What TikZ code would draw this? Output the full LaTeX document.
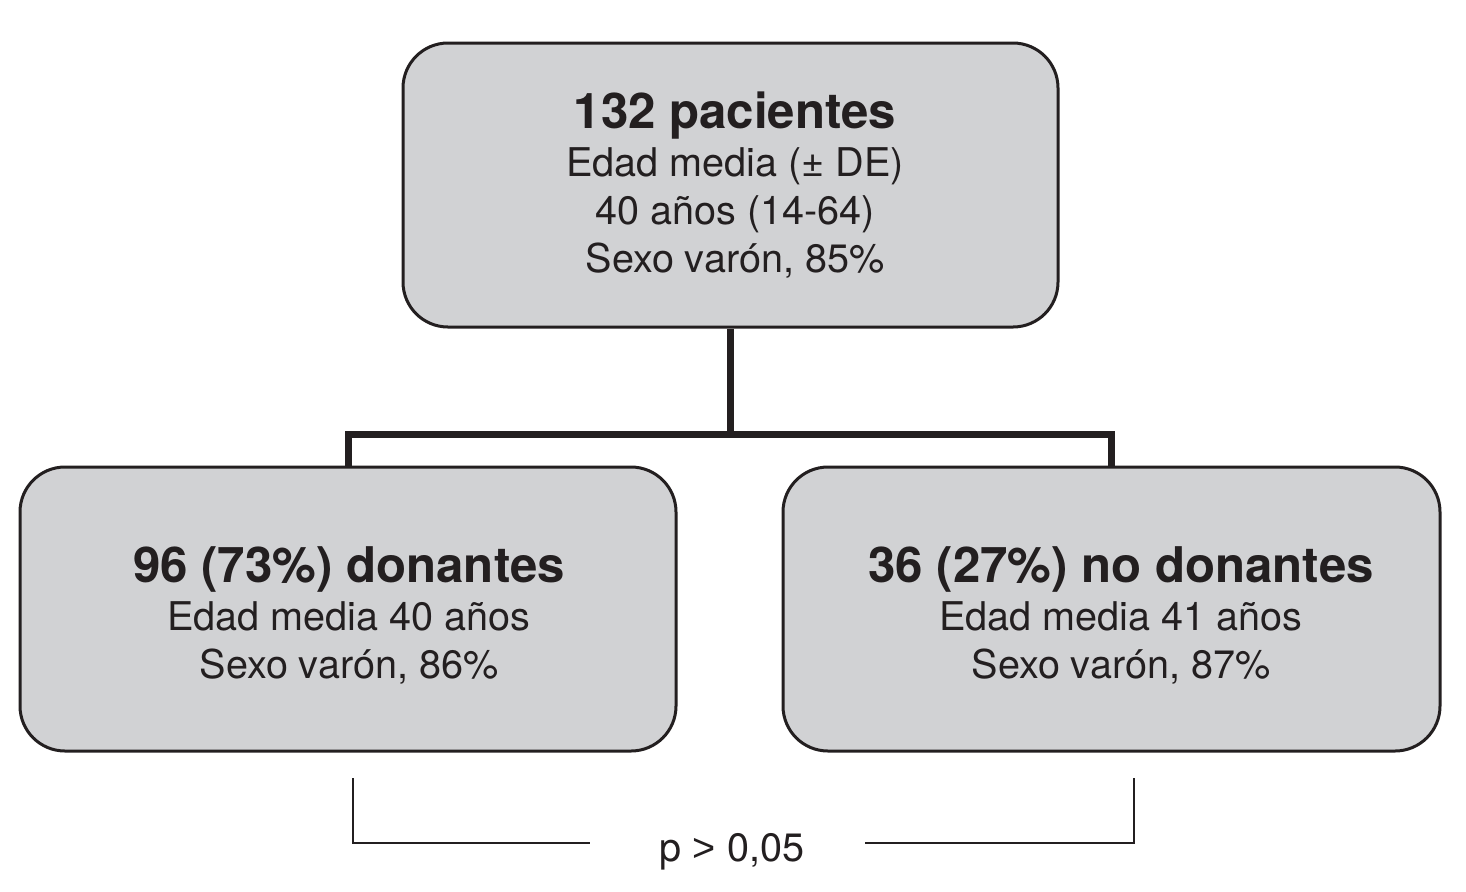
\documentclass[tikz,border=0pt]{standalone}
\usepackage{fontspec}
\setmainfont{TeX Gyre Heros}
\newfontfamily\libsans{Liberation Sans}
\definecolor{boxfill}{HTML}{D1D2D4}
\definecolor{ink}{HTML}{231F20}
\begin{document}
\begin{tikzpicture}[x=0.5pt,y=-0.5pt,
  box/.style={draw=ink, line width=1.5pt, fill=boxfill, rounded corners=22.5pt, inner sep=0pt, minimum height=142pt},
  conn/.style={draw=ink, line width=3.5pt},
  thin/.style={draw=ink, line width=0.8pt},
  title/.style={anchor=base, inner sep=0pt, text=ink, font=\fontsize{24.6}{29}\selectfont\bfseries},
  txt/.style={anchor=base, inner sep=0pt, text=ink, font=\fontsize{19.8}{24}\selectfont}]
\useasboundingbox (0,0) rectangle (1466,891);
\node[box, minimum width=327.5pt] (top) at (730.5,185) {};
\node[box, minimum width=328pt] (left) at (348,609) {};
\node[box, minimum width=328.5pt] (right) at (1111.5,609) {};
% connectors
\draw[conn] (left.north) -- ++(0,-31) coordinate (lj) -| (right.north);
\draw[conn] (top.south) -- (top.south |- lj);
% texts
\node[title] (t1) at (735,128) {132 pacientes};
\node[txt] (t2) at (735,176) {Edad media (± DE)};
\node[txt] (t3) at (735,224) {40 años (14-64)};
\node[txt] (t4) at (735,272) {Sexo varón, 85\%};
\node[title] (l1) at (349,582) {96 (73\%) donantes};
\node[txt] (l2) at (349,630) {Edad media 40 años};
\node[txt] (l3) at (349,678) {Sexo varón, 86\%};
\node[title] (r1) at (1121,582) {36 (27\%) no donantes};
\node[txt] (r2) at (1121,630) {Edad media 41 años};
\node[txt] (r3) at (1121,678) {Sexo varón, 87\%};
% bracket
\node[txt] (p) at (732,861) {p {\libsans >} 0,05};
\coordinate (bl) at (353,778);
\coordinate (br) at (1134,778);
\coordinate (gl) at (590,843);
\coordinate (gr) at (865,843);
\draw[thin] (bl) |- (gl);
\draw[thin] (br) |- (gr);
\end{tikzpicture}
\end{document}
